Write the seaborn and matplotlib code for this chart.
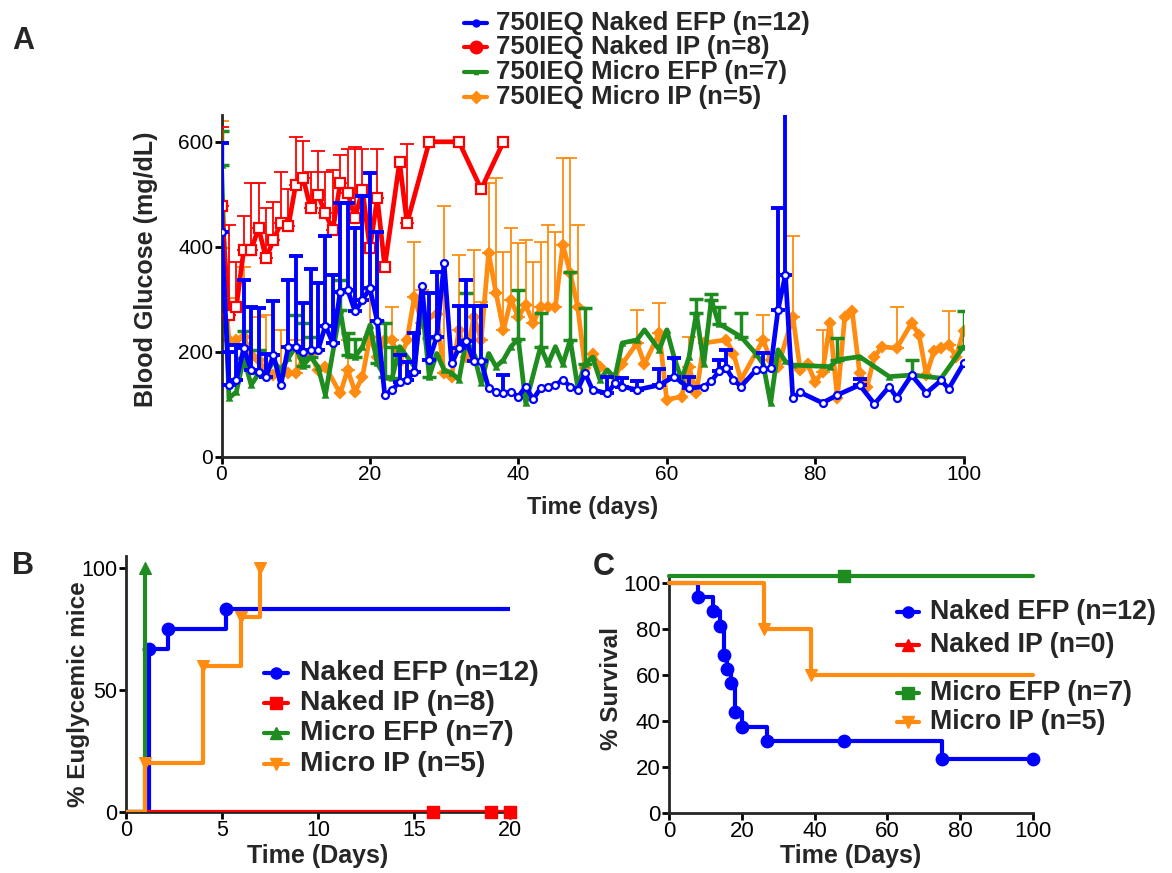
import numpy as np
import matplotlib
matplotlib.use("Agg")
import matplotlib.pyplot as plt
import seaborn as sns
from matplotlib.lines import Line2D

# ---------------- Panel A: blood glucose (mean, top of upper error bar) ----------------
naked_efp_day = [0, 1, 2, 3, 4, 5, 6, 7, 8, 9, 10, 11, 12, 13, 14, 15, 16, 17, 18, 19,
                 20, 21, 22, 23, 24, 25, 26, 27, 28, 29, 30, 31, 32, 33, 34, 35, 36, 37, 38, 39,
                 40, 41, 42, 43, 44, 45, 46, 47, 48, 49, 50, 52, 53, 54, 56, 59, 61, 63, 65, 66,
                 67, 68, 69, 70, 72, 73, 74, 75, 76, 77, 78, 81, 83, 86, 88, 90, 91, 93, 95, 97,
                 98, 100]
naked_efp_bg = [429, 137, 147, 207, 166, 162, 153, 194, 137, 210, 210, 200, 203, 203, 250, 217, 315, 318, 277, 299,
                321, 258, 118, 128, 143, 147, 162, 326, 185, 228, 369, 178, 207, 220, 182, 182, 131, 124, 121, 124,
                115, 134, 110, 131, 134, 137, 147, 134, 128, 159, 128, 121, 140, 134, 128, 137, 153, 131, 134, 144,
                163, 169, 147, 134, 165, 167, 169, 280, 347, 113, 123, 103, 118, 137, 101, 134, 113, 156, 122, 146,
                130, 178]
naked_efp_top = [597, 200, 213, 337, 286, 283, 197, 296, None, 337, 383, 293, 358, 331, 420, 347, 483, 483, 436, 496,
                 540, 429, None, None, 194, 181, 236, None, 312, 353, None, None, 287, 337, 287, 287, None, None, 156, None,
                 None, None, None, None, None, None, None, None, None, None, None, 153, None, 150, 144, 167, 188, 153, None, None,
                 185, 204, None, None, None, 198, None, 474, 720, None, None, None, None, 149, None, None, None, None, None, None,
                 None, None]

naked_ip_day = [0, 1, 2, 3, 4, 5, 6, 7, 8, 9, 10, 11, 12, 13, 14, 15, 16, 17, 18, 19,
                20, 21, 22, 24, 25, 28, 32, 35, 38]
naked_ip_bg = [477, 270, 286, 394, 394, 436, 378, 413, 445, 439, 518, 531, 474, 499, 464, 432, 521, 502, 455, 509,
               397, 493, 362, 562, 445, 600, 600, 510, 600]
naked_ip_top = [629, 442, 372, 458, 522, 522, 474, 486, 543, 510, 610, 601, 543, 582, 543, 547, 575, 587, 590, 587,
                None, 587, None, None, 596, None, None, None, None]

micro_efp_day = [0, 1, 2, 3, 4, 5, 6, 7, 8, 9, 10, 11, 12, 13, 14,
                 16, 17, 18, 19, 20, 21, 22, 23, 24,
                 26, 27, 28, 29, 30, 31, 32, 33, 34, 35, 36, 37, 38, 39, 40, 41,
                 43, 44, 45, 46, 47, 48, 49, 50, 51, 52, 53, 54,
                 56, 57, 59, 60, 61, 62, 63, 64, 65, 66, 67,
                 70, 72, 73, 74, 75, 76, 77,
                 82, 83, 86, 90, 93, 97, 100]
micro_efp_bg = [556, 112, 124, 188, 137, 159, 159, 182, 166, 188, 210, 174, 191, 172, 118,
                280, 194, 191, 210, 251, 178, 153, 150, 210,
                172, 293, 153, 197, 166, 160, 147, 223, 197, 140, 197, 172, 185, 210, 225, 102,
                210, 177, 210, 177, 223, 134, 177, 190, 147, 166, 150, 217,
                223, 242, 204, 242, 190, 147, 190, 274, 177, 299, 254,
                229, 197, 177, 102, 204, 182, 175,
                172, 185, 191, 153, 156, 150, 210]
micro_efp_top = [621, None, None, 239, None, 204, None, None, None, None, 270, 255, 228, None, None,
                 337, 236, 224, None, None, 258, 255, 210, None,
                 None, None, 226, None, None, None, None, 312, None, None, None, None, None, None, 318, None,
                 274, None, None, None, 353, None, 283, None, None, None, None, None,
                 None, None, None, None, None, None, None, 300, None, 310, 286,
                 274, None, None, None, None, None, None,
                 None, 226, None, None, 185, None, 277]

micro_ip_day = [0, 1, 2, 3, 4, 5, 6, 7, 8, 9, 10, 11, 12, 13, 14,
                16, 17, 18, 19, 20, 21, 22, 23, 24, 25, 26, 27,
                29, 30, 31, 32, 33, 34, 35, 36, 37, 38, 39, 40, 41, 42, 43, 44, 45, 46, 47, 48, 49, 50, 51,
                53, 54, 56, 57, 59, 60, 62, 63, 64, 65,
                68, 69, 70, 73, 74, 75,
                77, 78, 79, 80, 81, 82, 83, 84, 85, 86, 87, 88, 89,
                91, 93, 94, 95, 96, 97, 98, 99, 100]
micro_ip_bg = [397, 223, 223, 229, 194, 185, 162, 156, 159, 159, 159, 188, 197, 165, 172,
               121, 166, 124, 153, 229, 191, 223, 223, 180, 223, 305, 255,
               273, 159, 153, 242, 190, 267, 223, 388, 312, 242, 299, 267, 289, 255, 286, 286, 286, 404, 350, 286, 170, 197, 172,
               153, 177, 217, 177, 236, 109, 115, 172, 121, 217,
               223, 197, 147, 223, 185, 172,
               267, 166, 177, 143, 162, 255, 112, 267, 277, 160, 134, 191, 210,
               207, 255, 233, 156, 201, 207, 214, 191, 239]
micro_ip_top = [639, 302, None, 362, None, 267, 270, None, 242, None, 223, None, None, None, None,
                None, 223, None, None, 318, None, None, 286, None, None, 410, 317,
                None, 477, None, 384, None, 394, 295, 521, 531, 391, 436, 407, 414, 372, 410, 442, 429, 569, 569, 442, None, None, None,
                None, None, 280, None, 293, None, None, 229, None, None,
                None, None, None, 270, None, None,
                420, None, None, None, 242, None, None, None, None, None, None, None, None,
                286, None, None, None, None, None, 277, None, None]

# ---------------- Panel B: % euglycemic mice (step curves) ----------------
eug_naked_efp_t = [0, 1.2, 2.2, 5.2, 20]
eug_naked_efp_p = [0, 66.7, 75, 83.3, 83.3]
eug_naked_ip_t = [0, 16, 19, 20]
eug_naked_ip_p = [0, 0, 0, 0]
eug_micro_efp_t = [0, 1]
eug_micro_efp_p = [0, 100]
eug_micro_ip_t = [0, 1, 4, 6, 7]
eug_micro_ip_p = [0, 20, 60, 80, 100]

# ---------------- Panel C: % survival ----------------
surv_naked_efp_t = [0, 8, 12, 14, 15, 16, 17, 18, 20, 27, 48, 75, 100]
surv_naked_efp_p = [100, 93.75, 87.5, 81.25, 68.75, 62.5, 56.25, 43.75, 37.5, 31.25, 31.25, 23.4, 23.4]
surv_micro_efp_t = [0, 48, 100]
surv_micro_efp_p = [103, 103, 103]
surv_micro_ip_t = [0, 26, 39, 100]
surv_micro_ip_p = [100, 80, 60, 60]

labels_a = ["750IEQ Naked EFP (n=12)", "750IEQ Naked IP (n=8)",
            "750IEQ Micro EFP (n=7)", "750IEQ Micro IP (n=5)"]
labels_b = ["Naked EFP (n=12)", "Naked IP (n=8)", "Micro EFP (n=7)", "Micro IP (n=5)"]
labels_c = ["Naked EFP (n=12)", "Naked IP (n=0)", "Micro EFP (n=7)", "Micro IP (n=5)"]

BLUE, RED, GREEN, ORANGE = "#0000FF", "#FF0000", "#1E8C1E", "#FF8C10"

sns.set_style("ticks")
plt.rcParams["font.family"] = ["Liberation Sans", "DejaVu Sans"]

W, H = 1172, 873
fig = plt.figure(figsize=(W / 100, H / 100), dpi=100)


def box(l, t, r, b):
    return [l / W, 1 - b / H, (r - l) / W, (b - t) / H]


def prism(ax, fs):
    sns.despine(ax=ax)
    for s in ("left", "bottom"):
        ax.spines[s].set_linewidth(2.0)
    ax.tick_params(direction="out", length=5, width=2.0, labelsize=fs, pad=1, colors="black")


axA = fig.add_axes(box(221.5, 115, 963.5, 457))
axB = fig.add_axes(box(126, 556, 510, 812))
axC = fig.add_axes(box(669, 578, 1033, 813))


def glucose(ax, day, bg, top, color, marker, ms, mfc, elw, z):
    day = np.array(day, float)
    bg = np.array(bg, float)
    top = np.array(top, float)
    has = ~np.isnan(top)
    up = top[has] - bg[has]
    ax.errorbar(day[has], bg[has], yerr=[np.zeros(has.sum()), up], fmt="none",
                ecolor=color, elinewidth=elw, capsize=5, capthick=elw, zorder=z)
    sns.lineplot(x=day, y=bg, ax=ax, color=color, linewidth=3.4, marker=marker, ms=ms,
                 mfc=mfc, mec=color, mew=1.6, estimator=None, zorder=z + 0.5)


glucose(axA, micro_ip_day, micro_ip_bg, micro_ip_top, ORANGE, "D", 5.5, ORANGE, 1.3, 2)
glucose(axA, micro_efp_day, micro_efp_bg, micro_efp_top, GREEN, "^", 3, GREEN, 2.5, 3)
glucose(axA, naked_ip_day, naked_ip_bg, naked_ip_top, RED, "s", 6.5, "white", 1.3, 4)
glucose(axA, naked_efp_day, naked_efp_bg, naked_efp_top, BLUE, "o", 5, "white", 2.8, 5)

axA.set_xlim(0, 100)
axA.set_ylim(0, 651)
axA.set_xticks(range(0, 101, 20))
axA.set_yticks([0, 200, 400, 600])
prism(axA, 15)
axA.set_xlabel("Time (days)", fontsize=17, fontweight="bold")
axA.set_ylabel("Blood Glucose (mg/dL)", fontsize=18, fontweight="bold")
axA.xaxis.set_label_coords(0.5, -0.115)
axA.yaxis.set_label_coords(-0.085, 0.55)

# ---- Panel B
def steps(ax, t, p, color, marker, ms, marks, z):
    sns.lineplot(x=t, y=p, ax=ax, color=color, linewidth=3, drawstyle="steps-post",
                 estimator=None, zorder=z)
    mt = [t[i] for i in marks]
    mp = [p[i] for i in marks]
    sns.scatterplot(x=mt, y=mp, ax=ax, color=color, marker=marker, s=ms,
                    edgecolor=color, linewidth=1, zorder=z + 0.5, clip_on=False)


steps(axB, eug_naked_efp_t, eug_naked_efp_p, BLUE, "o", 80, [1, 2, 3], 2)
steps(axB, eug_micro_efp_t, eug_micro_efp_p, GREEN, "^", 70, [1], 3)
steps(axB, eug_naked_ip_t, eug_naked_ip_p, RED, "s", 70, [1, 2, 3], 4)
steps(axB, eug_micro_ip_t, eug_micro_ip_p, ORANGE, "v", 70, [1, 2, 3, 4], 5)
axB.set_xlim(0, 20)
axB.set_ylim(0, 105)
axB.set_xticks([0, 5, 10, 15, 20])
axB.set_yticks([0, 50, 100])
prism(axB, 15.5)
axB.set_xlabel("Time (Days)", fontsize=18, fontweight="bold")
axB.set_ylabel("% Euglycemic mice", fontsize=17.5, fontweight="bold")
axB.xaxis.set_label_coords(0.5, -0.125)
axB.yaxis.set_label_coords(-0.095, 0.46)

# ---- Panel C
steps(axC, surv_naked_efp_t, surv_naked_efp_p, BLUE, "o", 80, list(range(1, 13)), 2)
steps(axC, surv_micro_efp_t, surv_micro_efp_p, GREEN, "s", 70, [1], 3)
steps(axC, surv_micro_ip_t, surv_micro_ip_p, ORANGE, "v", 70, [1, 2], 4)
for ln in axC.lines:
    ln.set_clip_on(False)
axC.set_xlim(0, 100)
axC.set_ylim(0, 102)
axC.set_xticks(range(0, 101, 20))
axC.set_yticks(range(0, 101, 20))
prism(axC, 16)
axC.set_xlabel("Time (Days)", fontsize=18, fontweight="bold")
axC.set_ylabel("% Survival", fontsize=17.5, fontweight="bold")
axC.xaxis.set_label_coords(0.5, -0.13)
axC.yaxis.set_label_coords(-0.125, 0.53)


# ---- legends drawn as rows of handle + text
def key(x0, x1, xt, ys, colors, markers, sizes, labels, fs):
    for y, c, m, s, lab in zip(ys, colors, markers, sizes, labels):
        yf = 1 - y / H
        fig.add_artist(Line2D([x0 / W, x1 / W], [yf, yf], color=c, lw=3))
        fig.add_artist(Line2D([(x0 + x1) / 2 / W], [yf], color=c, marker=m, ms=s,
                              mec=c, mfc=c, lw=0))
        fig.text(xt / W, yf, lab, fontsize=fs, fontweight="bold", va="center", ha="left")


key(464, 487, 496, [23, 47, 72, 97], [BLUE, RED, GREEN, ORANGE], ["o", "o", "^", "D"],
    [5, 9, 3, 6], labels_a, 18.6)
key(264, 288, 300, [673, 703, 733, 764], [BLUE, RED, GREEN, ORANGE], ["o", "s", "^", "v"],
    [8, 8, 8, 8], labels_b, 20.3)
key(897, 919, 930, [612, 645, 693, 722], [BLUE, RED, GREEN, ORANGE], ["o", "^", "s", "v"],
    [8, 8, 8, 8], labels_c, 19.3)

for letter, x, y in [("A", 12, 41), ("B", 12, 566), ("C", 593, 567)]:
    fig.text(x / W, 1 - y / H, letter, fontsize=22, fontweight="bold", va="center", ha="left")

fig.savefig("out.png", dpi=100)
